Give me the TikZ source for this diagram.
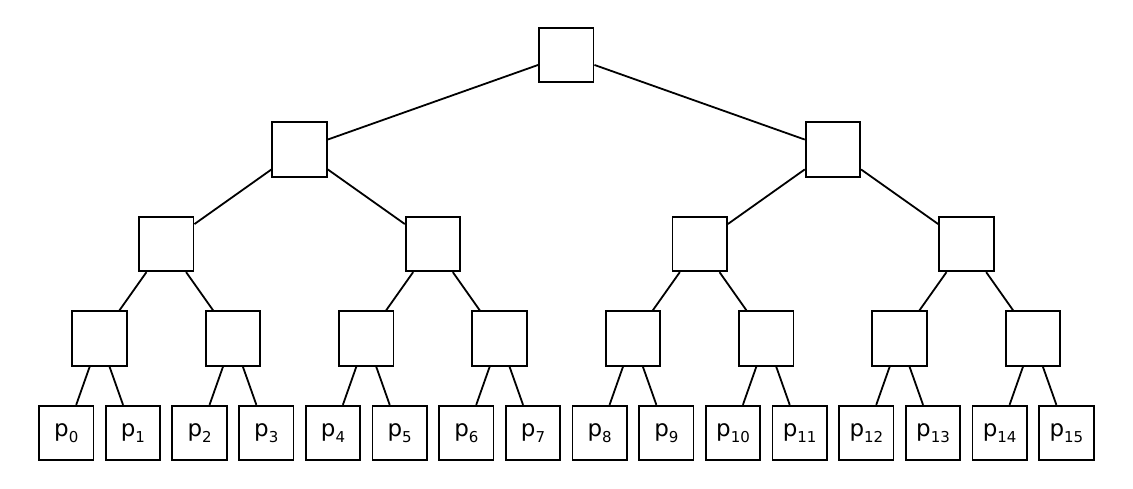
\documentclass[tikz,border=0pt]{standalone}
\usepackage{fontspec}
\setmainfont{DejaVu Sans}
\newcommand{\leaflabel}[1]{p\raisebox{-0.28em}{\fontsize{15}{15}\selectfont #1}}
\begin{document}
\begin{tikzpicture}[x=1pt,y=-1pt,
  box/.style={draw,line width=1.8pt,minimum size=54.5pt,inner sep=0pt,font=\fontsize{23}{23}\selectfont},
  edge/.style={line width=1.8pt}]
\useasboundingbox (0,0) rectangle (1133,489);
\node[box] (r) at (566.3,55) {};
\foreach \i in {0,1} \node[box] (a\i) at ({299.6+533.3*\i},149.5) {};
\foreach \i in {0,...,3} \node[box] (b\i) at ({166.3+266.7*\i},244) {};
\foreach \i in {0,...,7} \node[box] (c\i) at ({99.6+133.33*\i},338.5) {};
\foreach \i in {0,...,15} \node[box] (p\i) at ({66.3+66.67*\i},433) {\leaflabel{\i}};
\foreach \i in {0,1} \draw[edge] (r) -- (a\i);
\foreach \i in {0,...,3} {\pgfmathtruncatemacro{\j}{int(\i/2)}\draw[edge] (a\j) -- (b\i);}
\foreach \i in {0,...,7} {\pgfmathtruncatemacro{\j}{int(\i/2)}\draw[edge] (b\j) -- (c\i);}
\foreach \i in {0,...,15} {\pgfmathtruncatemacro{\j}{int(\i/2)}\draw[edge] (c\j) -- (p\i);}
\end{tikzpicture}
\end{document}
